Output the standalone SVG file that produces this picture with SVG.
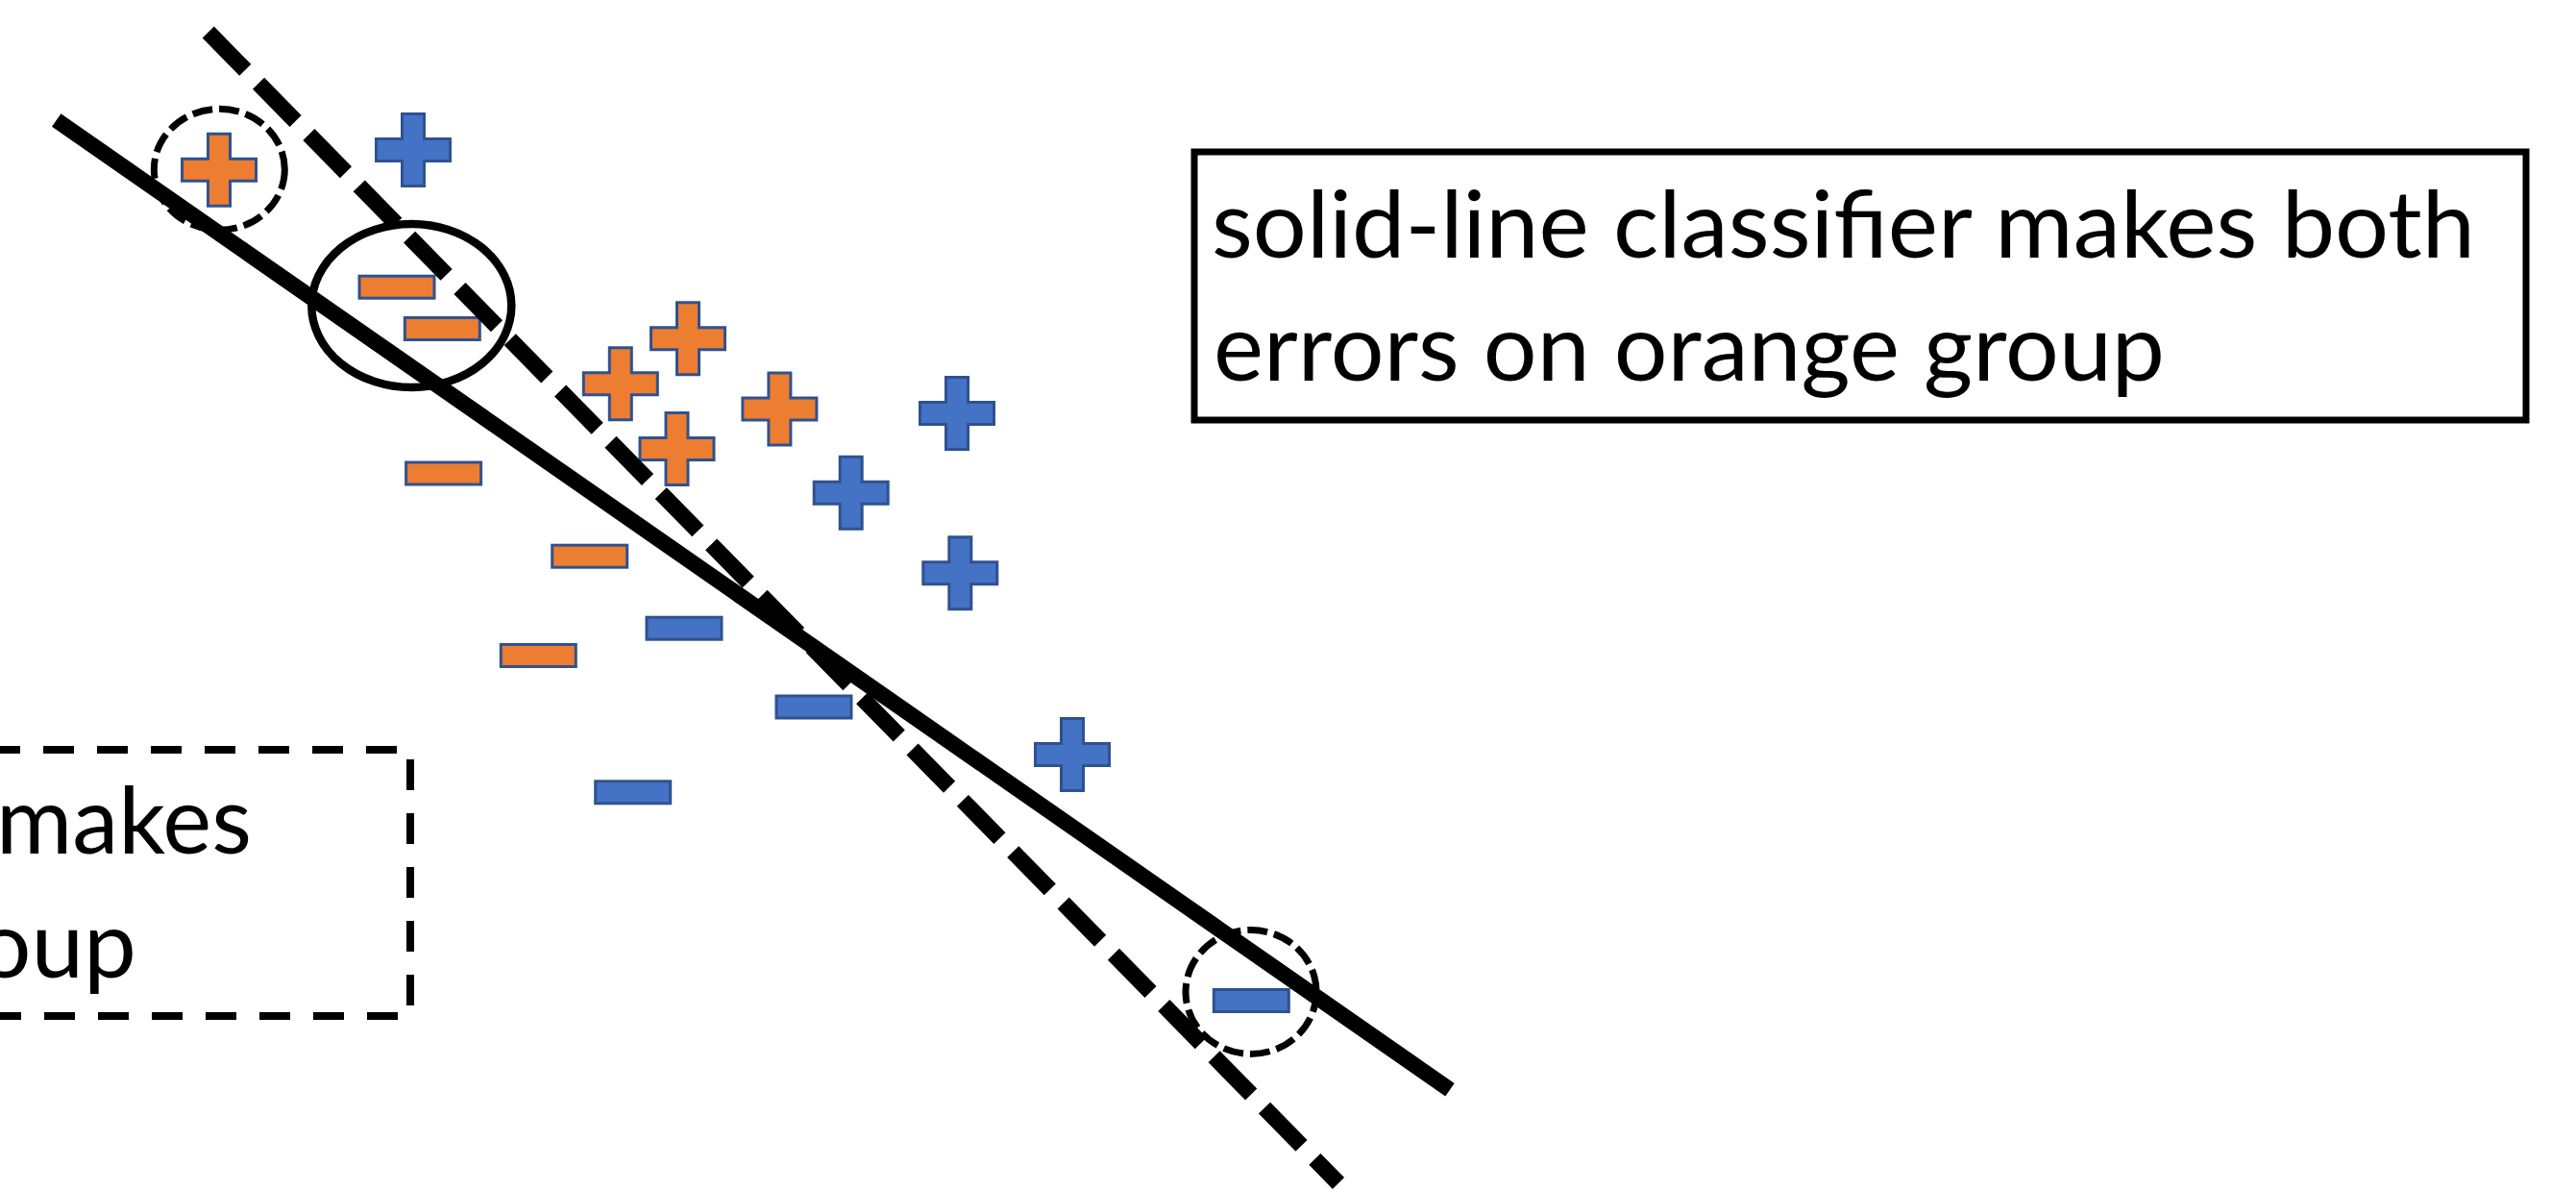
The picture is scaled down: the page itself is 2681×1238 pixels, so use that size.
<svg xmlns="http://www.w3.org/2000/svg" xmlns:xlink="http://www.w3.org/1999/xlink" width="2681" height="1238" viewBox="0 0 2681 1238">
  <style>
    .orange { fill: #ED7D31; stroke: #2F528F; stroke-width: 3; }
    .blue { fill: #4472C4; stroke: #2F528F; stroke-width: 3; }
    .solid-boundary { fill: none; stroke: #000; stroke-width: 16.5; stroke-linecap: butt; }
    .dashed-boundary { fill: none; stroke: #000; stroke-width: 17; stroke-linecap: butt; stroke-dasharray: 55 19.7; }
    .ring-solid { fill: none; stroke: #000; stroke-width: 8.5; }
    .ring-dashed { fill: none; stroke: #000; stroke-width: 7; stroke-dasharray: 21 7; }
    .label { font-family: Lato, "Open Sans", "Liberation Sans", sans-serif; font-size: 97px; fill: #000; }
  </style>
  <defs>
    <!-- plus marker, 80 x 78 outer, centred on the origin -->
    <path id="plus" d="M-11.5,-37.5 H11.5 V-11.5 H38.5 V11.5 H11.5 V37.5 H-11.5 V11.5 H-38.5 V-11.5 H-11.5 Z"/>
    <!-- minus marker, 81 x 26 outer, centred on the origin -->
    <rect id="minus" x="-39" y="-11.5" width="78" height="23"/>
  </defs>

  <rect width="2681" height="1238" fill="#fff"/>

  <!-- data points -->
  <g id="points">
    <g id="orange-plus">
      <use xlink:href="#plus" class="orange" x="228" y="176.7"/>
      <use xlink:href="#plus" class="orange" x="716" y="352.2"/>
      <use xlink:href="#plus" class="orange" x="645.8" y="399.3"/>
      <use xlink:href="#plus" class="orange" x="811.4" y="425.5"/>
      <use xlink:href="#plus" class="orange" x="704.5" y="467"/>
    </g>
    <g id="blue-plus">
      <use xlink:href="#plus" class="blue" x="430" y="156"/>
      <use xlink:href="#plus" class="blue" x="996" y="430"/>
      <use xlink:href="#plus" class="blue" x="885.7" y="512.7"/>
      <use xlink:href="#plus" class="blue" x="999.3" y="596.3"/>
      <use xlink:href="#plus" class="blue" x="1116" y="785"/>
    </g>
    <g id="orange-minus">
      <use xlink:href="#minus" class="orange" x="413" y="298.7"/>
      <use xlink:href="#minus" class="orange" x="460.3" y="342"/>
      <use xlink:href="#minus" class="orange" x="461.6" y="492.5"/>
      <use xlink:href="#minus" class="orange" x="613.7" y="578.7"/>
      <use xlink:href="#minus" class="orange" x="560.3" y="682"/>
    </g>
    <g id="blue-minus">
      <use xlink:href="#minus" class="blue" x="712" y="653.7"/>
      <use xlink:href="#minus" class="blue" x="847" y="735.5"/>
      <use xlink:href="#minus" class="blue" x="658.7" y="824.3"/>
      <use xlink:href="#minus" class="blue" x="1302.3" y="1041"/>
    </g>
  </g>

  <!-- decision boundaries -->
  <g id="connectors">
    <line id="dashed-classifier" class="dashed-boundary" x1="216.7" y1="33.5" x2="1393" y2="1231"/>
    <line id="solid-classifier" class="solid-boundary" x1="58.7" y1="125" x2="1509" y2="1133.7"/>
  </g>

  <!-- highlighted errors -->
  <g id="highlights">
    <ellipse id="solid-errors" class="ring-solid" cx="428.3" cy="318" rx="104" ry="85"/>
    <ellipse id="dashed-error-top" class="ring-dashed" cx="228.3" cy="176.3" rx="68" ry="63"/>
    <ellipse id="dashed-error-bottom" class="ring-dashed" cx="1302" cy="1032" rx="68" ry="64.5"/>
  </g>

  <!-- caption for the solid-line classifier -->
  <g id="solid-caption">
    <rect x="1243" y="158" width="1386" height="279" fill="#fff" stroke="#000" stroke-width="7"/>
    <text class="label" x="1261" y="268" textLength="1315" lengthAdjust="spacingAndGlyphs">solid-line classifier makes both</text>
    <text class="label" x="1263" y="396" textLength="990" lengthAdjust="spacingAndGlyphs">errors on orange group</text>
  </g>

  <!-- caption for the dashed-line classifier, running off the left edge -->
  <g id="dashed-caption">
    <path d="M-123,780 H427 V1057 H-123" fill="none" stroke="#000" stroke-width="8" stroke-dasharray="32 24"/>
    <text class="label" x="-4" y="888" textLength="266" lengthAdjust="spacingAndGlyphs">makes</text>
    <text class="label" x="-23" y="1017" textLength="165" lengthAdjust="spacingAndGlyphs">oup</text>
  </g>
</svg>
